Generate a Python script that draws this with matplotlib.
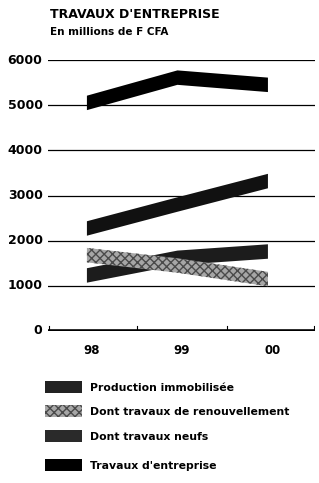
import matplotlib
matplotlib.use("Agg")
import matplotlib.pyplot as plt
from matplotlib.patches import Rectangle
import numpy as np

years = ["98", "99", "00"]
travaux_entreprise = [5050, 5610, 5450]
production_immobilisee = [2270, 2800, 3320]
renouvellement = [1680, 1450, 1150]
travaux_neufs = [1230, 1620, 1760]
yticks = [0, 1000, 2000, 3000, 4000, 5000, 6000]

W, H = 319, 483
fig = plt.figure(figsize=(W / 100, H / 100), dpi=100)
fig.patch.set_facecolor("white")

def fx(px):
    return px / W

def fy(py):
    return 1 - py / H

ax = fig.add_axes([fx(48), fy(331), fx(315) - fx(48), fy(60) - fy(331)])
ax.set_xlim(-0.43, 2.52)
ax.set_ylim(0, 6000)
for s in ax.spines.values():
    s.set_visible(False)
ax.set_xticks([])
ax.set_yticks([])

for v in yticks[1:]:
    ax.axhline(v, color="black", lw=0.9, zorder=1)
ax.axhline(0, color="black", lw=2.6, zorder=5)
for t in [0.55, 1.55, 2.51, -0.42]:
    ax.plot([t, t], [0, 100], color="black", lw=0.8, zorder=5)

x = np.arange(len(years))
half = 160

def band(vals, color, z, hatch=None, hatchcolor=None):
    v = np.array(vals, dtype=float)
    if hatch:
        ax.fill_between(x, v - half, v + half, facecolor=color, edgecolor=hatchcolor,
                        hatch=hatch, lw=0, zorder=z)
    else:
        ax.fill_between(x, v - half, v + half, facecolor=color, lw=0, zorder=z)

band(travaux_entreprise, "#000000", 3)
band(production_immobilisee, "#111111", 3)
band(travaux_neufs, "#1c1c1c", 3)
band(renouvellement, "#a6a6a6", 4, hatch="xxxx", hatchcolor="#4a4a4a")

for v in yticks:
    ax.text(-0.49, v, str(v), ha="right", va="center", fontsize=9,
            fontweight="bold", color="black")
for i, yl in enumerate(years):
    ax.text(i + 0.05, -430, yl, ha="center", va="center", fontsize=8.5,
            fontweight="bold", color="black")

fig.text(fx(50), fy(15), "TRAVAUX D'ENTREPRISE", ha="left", va="center",
         fontsize=9, fontweight="bold", color="black")
fig.text(fx(50), fy(32), "En millions de F CFA", ha="left", va="center",
         fontsize=7.5, fontweight="semibold", color="black")

legend_items = [
    ("Production immobilisée", "#222222", None),
    ("Dont travaux de renouvellement", "#a6a6a6", "xxxx"),
    ("Dont travaux neufs", "#2a2a2a", None),
    ("Travaux d'entreprise", "#000000", None),
]
legend_y = [387, 411, 436, 465]
for (lab, col, hatch), yc in zip(legend_items, legend_y):
    r = Rectangle((fx(45), fy(yc + 6)), fx(37), fy(0) - fy(12), transform=fig.transFigure,
                  facecolor=col, edgecolor="#4a4a4a" if hatch else col, hatch=hatch, lw=0)
    fig.patches.append(r)
    fig.text(fx(90), fy(yc + 1), lab, ha="left", va="center", fontsize=7.8,
             fontweight="bold", color="black")

fig.savefig("out.png", dpi=100, facecolor="white")
